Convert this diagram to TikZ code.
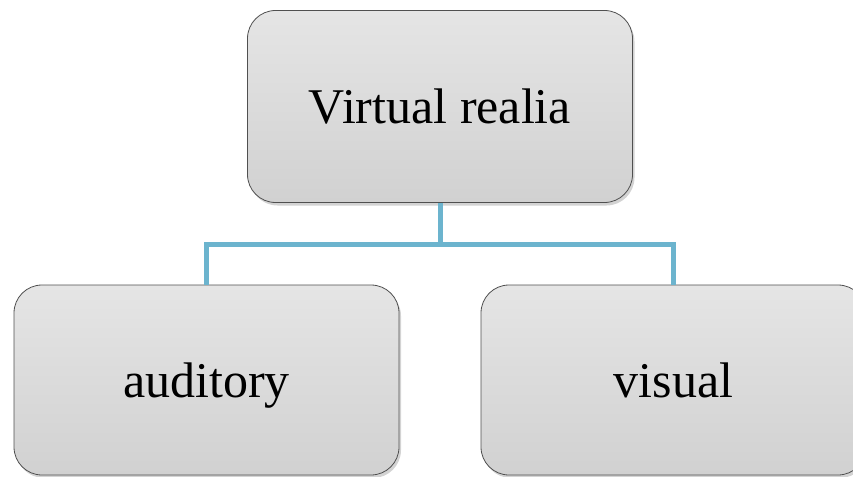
\documentclass[tikz,border=0pt]{standalone}
\usepackage{fontspec}
\setmainfont{Liberation Serif}
\usetikzlibrary{
    shadows,
    positioning
}
\definecolor{boxtop}{RGB}{229,229,229}
\definecolor{boxbot}{RGB}{209,209,209}
\definecolor{boxline}{RGB}{80,80,80}
\definecolor{linkblue}{RGB}{108,180,206}
\tikzset{
    catbox/.style={rectangle, rounded corners=28pt, draw=boxline, line width=0.8pt,
        top color=boxtop, bottom color=boxbot, inner sep=0pt,
        minimum width=385pt, minimum height=190pt,
        text height=34pt, text depth=0pt,
        font=\fontsize{50}{60}\selectfont,
        drop shadow={shadow xshift=2pt, shadow yshift=-3pt, opacity=0.35}},
    link/.style={draw=linkblue, line width=5pt}
}

\begin{document}
\begin{tikzpicture}[x=1pt, y=-1pt]
                            \clip (0, 0) rectangle (853, 476);
                            \node[catbox, minimum height=192pt] (vr) at (440, 106.5) {Virtual realia};
                            \node[catbox] (aud) at (206.5, 380) {auditory};
                            \node[catbox] (vis) at (673.5, 380) {visual};
                            \coordinate (j) at (440, 244);
                            \draw[link]
                            (vr.south) -- (j)
                            (j) -| (aud.north)
                            (j) -| (vis.north);
                        \end{tikzpicture}
\end{document}
